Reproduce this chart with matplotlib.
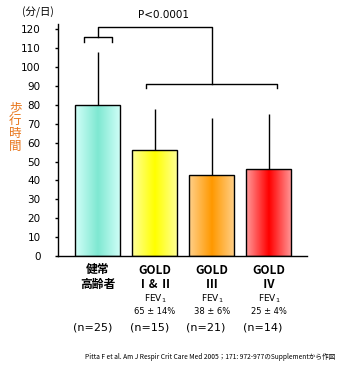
import numpy as np
import matplotlib
matplotlib.use("Agg")
import matplotlib.pyplot as plt
from matplotlib.colors import LinearSegmentedColormap
from matplotlib.transforms import blended_transform_factory

plt.rcParams['font.family'] = ['DejaVu Sans', 'Noto Sans CJK JP']

categories = ["健常\n高齢者", "GOLD\nⅠ& Ⅱ", "GOLD\nⅢ", "GOLD\nⅣ"]
means = [80, 56, 43, 46]
sd_upper = [28, 22, 30, 29]
fev_values = ["65 ± 14%", "38 ± 6%", "25 ± 4%"]
n_labels = ["(n=25)", "(n=15)", "(n=21)", "(n=14)"]
yticks = [0, 10, 20, 30, 40, 50, 60, 70, 80, 90, 100, 110, 120]
p_text = "P<0.0001"
center_colors = ["#7FE8D2", "#FFFF00", "#FF9900", "#FF0000"]
edge_colors = ["#D2FFF8", "#FFFF9A", "#FFD08A", "#FF9A9A"]

W, H = 361, 370
fig = plt.figure(figsize=(W/100, H/100), dpi=100)
ax_left, ax_right, ax_bottom = 58, 307, 256
px_per_unit = 18.9 / 10
ymax = 125
ax_top = ax_bottom - ymax * px_per_unit
ax = fig.add_axes([ax_left/W, 1 - ax_bottom/H, (ax_right-ax_left)/W, (ax_bottom-ax_top)/H])

x = np.arange(len(categories))
bw = 0.79

bars = ax.bar(x, means, width=bw, color='none', edgecolor='black', linewidth=1.0, zorder=3)
grad = 1 - np.abs(np.linspace(-1, 1, 200))
for b, cc, ec in zip(bars, center_colors, edge_colors):
    cmap = LinearSegmentedColormap.from_list("g", [ec, cc])
    x0, y0 = b.get_x(), b.get_y()
    w, h = b.get_width(), b.get_height()
    im = ax.imshow(grad[None, :], cmap=cmap, extent=[x0, x0 + w, y0, y0 + h],
                   aspect='auto', zorder=2, interpolation='bilinear')
    im.set_clip_path(b)

ax.errorbar(x, means, yerr=[np.zeros(len(means)), sd_upper], fmt='none', ecolor='black',
            elinewidth=1.0, capsize=0, zorder=1)

# brackets
lw = 1.0
ax.plot([x[0]-0.25, x[0]-0.25, x[0]+0.25, x[0]+0.25], [113.2, 115.9, 115.9, 113.2], color='black', lw=lw, clip_on=False)
ax.plot([x[0], x[0], x[2], x[2]], [115.9, 121, 121, 91], color='black', lw=lw, clip_on=False)
ax.plot([x[1]-0.15, x[1]-0.15, x[3]+0.15, x[3]+0.15], [89, 91, 91, 89], color='black', lw=lw, clip_on=False)
fig.text(138/W, 1 - 15/H, p_text, fontsize=7.5, va='center', ha='left')

ax.set_xlim(-0.70, 3.67)
ax.set_ylim(0, ymax)
ax.set_yticks(yticks)
ax.set_yticklabels([str(t) for t in yticks], fontsize=7.5)
ax.tick_params(axis='y', length=2.5, width=1.0, pad=10)
ax.tick_params(axis='x', length=0, labelbottom=False)
for s in ['top', 'right']:
    ax.spines[s].set_visible(False)
ax.spines['left'].set_bounds(0, 123)
ax.spines['left'].set_linewidth(1.0)
ax.spines['bottom'].set_linewidth(1.0)

fig.text(38/W, 1 - 12/H, "(分/日)", fontsize=7.5, ha='center', va='center',
         family=['Noto Sans CJK JP', 'DejaVu Sans'])
fig.text(15/W, 1 - 127/H, "歩\n行\n時\n間", fontsize=9, ha='center', va='center', color='#E8751A',
         linespacing=1.0, family=['Noto Sans CJK JP', 'DejaVu Sans'])

tr = blended_transform_factory(ax.transData, fig.transFigure)
for i, lab in enumerate(categories):
    ax.text(x[i], 1 - 277/H, lab, transform=tr, ha='center', va='center', fontsize=8.5,
            fontweight='bold', linespacing=1.1, family=['Noto Sans CJK JP', 'DejaVu Sans'])
for i, fv in enumerate(fev_values):
    ax.text(x[i+1], 1 - 299/H, "FEV$_1$", transform=tr, ha='center', va='center', fontsize=6.5)
    ax.text(x[i+1], 1 - 311/H, fv, transform=tr, ha='center', va='center', fontsize=6)
for i, nl in enumerate(n_labels):
    ax.text(x[i] - 0.1, 1 - 328/H, nl, transform=tr, ha='center', va='center', fontsize=8)

fig.text(210/W, 1 - 357/H, "Pitta F et al. Am J Respir Crit Care Med 2005；171: 972-977のSupplementから作図",
         fontsize=4.8, ha='center', va='center', family=['Noto Sans CJK JP', 'DejaVu Sans'])

fig.savefig("out.png", dpi=100)
